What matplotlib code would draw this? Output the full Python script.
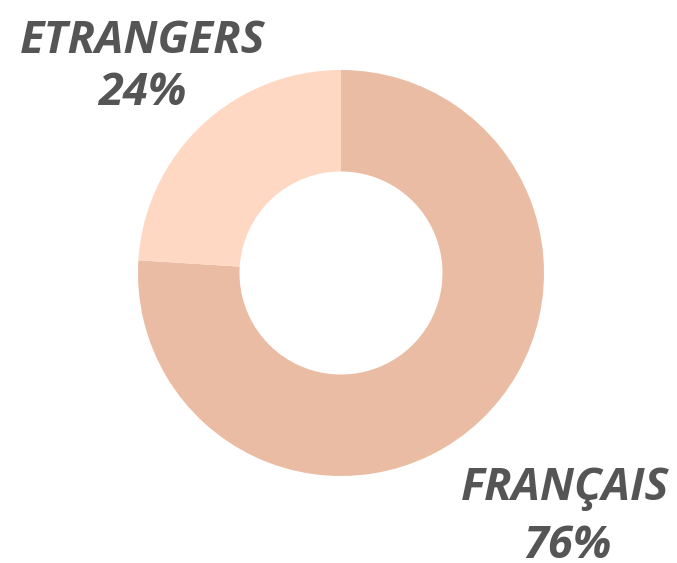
import matplotlib
matplotlib.use('Agg')
import matplotlib.pyplot as plt

# data
labels = ['FRANÇAIS', 'ETRANGERS']
values = [76, 24]
colors = ['#EBBCA4', '#FED8C2']

W, H = 677, 563
fig = plt.figure(figsize=(W / 100, H / 100), dpi=100)
ax = fig.add_axes([0, 0, 1, 1])

cx, cy, r = 341, H - 273, 203
ax.pie(values, colors=colors, startangle=90, counterclock=False,
       center=(cx, cy), radius=r, frame=True,
       wedgeprops=dict(width=r * 0.5, linewidth=0))
ax.set_xlim(0, W)
ax.set_ylim(0, H)
ax.axis('off')

txt = dict(fontfamily='Open Sans', fontweight='bold', fontstyle='italic',
           fontsize=32.5, color='#555555', ha='center', va='baseline')

# label positions (pixel coords, top-left origin)
pos = {'FRANÇAIS': [(565, 500), (567, 558)],
       'ETRANGERS': [(143, 53), (142, 105)]}
for lab, v in zip(labels, values):
    (x1, y1), (x2, y2) = pos[lab]
    ax.text(x1, H - y1, lab, **txt)
    ax.text(x2, H - y2, f'{v}%', **txt)

fig.savefig('out.png', dpi=100)
